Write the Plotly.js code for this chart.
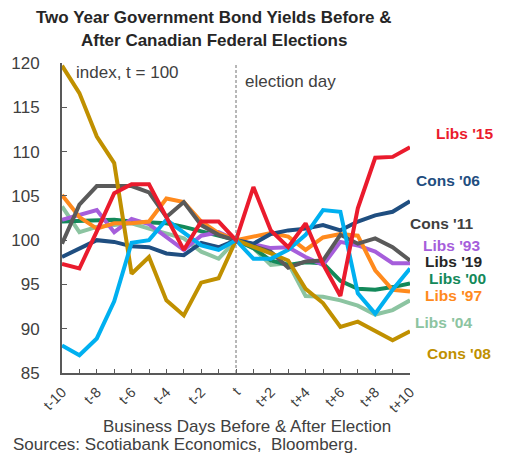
<!DOCTYPE html>
<html>
<head>
<meta charset="utf-8">
<script src="https://cdn.plot.ly/plotly-3.0.1.min.js"></script>
<style>html,body{margin:0;padding:0;background:#fff;}#chart{width:513px;height:456px;}</style>
</head>
<body>
<div id="chart"></div>
<script>
const tickLabels = ["t-10","t-9","t-8","t-7","t-6","t-5","t-4","t-3","t-2","t-1","t","t+1","t+2","t+3","t+4","t+5","t+6","t+7","t+8","t+9","t+10"];
const shownTicks = ["t-10","t-8","t-6","t-4","t-2","t","t+2","t+4","t+6","t+8","t+10"];

const libs15 = [97.3,96.8,101.0,105.3,106.3,106.3,102.6,98.9,102.1,102.1,100,106.0,101.1,99.2,101.9,97.3,93.7,103.6,109.3,109.4,110.5];
const cons06 = [98.1,99.1,100.0,99.8,99.3,99.2,98.5,98.3,99.7,99.2,100,99.6,100.7,101.1,101.3,101.7,101.1,102.1,102.8,103.2,104.4];
const cons11 = [99.6,104.0,106.1,106.1,106.1,105.4,102.6,104.3,101.7,100.6,100,99.4,98.7,96.9,97.6,97.7,100.6,99.6,100.2,99.2,97.7];
const libs93 = [102.3,102.8,103.4,100.9,102.4,101.8,100.3,98.9,100.5,100.9,100,99.5,99.1,99.2,98.1,97.2,99.8,99.4,98.7,97.4,97.4];
const libs19 = [88.1,87.0,88.9,93.1,99.7,100.0,102.3,100.9,99.4,98.9,100,97.9,97.9,98.9,100.6,103.4,103.2,94.0,91.7,94.4,96.8];
const libs00 = [102.1,102.2,102.2,102.3,102.1,102.0,101.9,101.5,101.0,100.6,100,99.1,97.7,97.2,97.5,97.4,95.4,94.5,94.4,94.7,95.1];
const libs97 = [105.1,102.6,101.3,101.9,101.9,102.1,104.7,104.3,102.1,100.8,100,100.4,100.8,100.4,98.9,100.3,100.7,100.5,96.6,94.4,94.2];
const libs04 = [103.8,100.9,101.5,101.7,101.9,101.3,100.8,100.2,98.7,97.9,100,99.1,97.2,97.4,93.7,93.6,93.2,92.6,91.6,92.1,93.2];
const cons08 = [119.7,116.6,111.7,108.7,96.2,98.1,93.2,91.5,95.2,95.7,100,99.3,98.5,97.7,94.5,92.9,90.2,90.8,89.8,88.7,89.7];

const seriesNames = ["Libs '04","Libs '00","Libs '93","Libs '97","Cons '11","Cons '06","Cons '08","Libs '19","Libs '15"];
const seriesData = [libs04, libs00, libs93, libs97, cons11, cons06, cons08, libs19, libs15];
const seriesColors = ["#8cc4a1","#13895a","#a65edb","#ff8a1d","#5a5a5a","#1f4e80","#c09000","#00b0f0","#ea1b2d"];

const labelTexts = ["Libs '15","Cons '06","Cons '11","Libs '93","Libs '19","Libs '00","Libs '97","Libs '04","Cons '08"];
const labelColors = ["#ea1b2d","#1f4e80","#404040","#a65edb","#262626","#13895a","#ff8a1d","#8cc4a1","#c09000"];

const L = 62, T = 63, W = 348, H = 310;
const labelPx = [[465,133],[448,180],[442,224],[452,245],[453,261],[457,278],[453,295],[443,322],[459,353]];

const xIdx = tickLabels.map((_, i) => i);
const traces = seriesData.map((d, k) => ({
  x: xIdx, y: d, type: 'scatter', mode: 'lines', name: seriesNames[k],
  line: {color: seriesColors[k], width: 4}, hoverinfo: 'skip'
}));

const FONT = 'Liberation Sans, Arial, sans-serif';
const px2paper = (px, py) => [(px - L) / W, (T + H - py) / H];
const annotations = labelTexts.map((t, k) => {
  const p = px2paper(labelPx[k][0], labelPx[k][1]);
  return {x: p[0], y: p[1], xref: 'paper', yref: 'paper', text: '<b>' + t + '</b>',
    showarrow: false, font: {family: FONT, size: 15.5, color: labelColors[k]},
    xanchor: 'center', yanchor: 'middle'};
});
function addText(px, py, text, size, color, anchor) {
  const p = px2paper(px, py);
  annotations.push({x: p[0], y: p[1], xref: 'paper', yref: 'paper', text: text, showarrow: false,
    xanchor: anchor, yanchor: 'middle', font: {family: FONT, size: size, color: color}});
}
addText(74, 72, 'index, t = 100', 17, '#404040', 'left');
addText(243, 81, 'election day', 17, '#404040', 'left');
addText(11, 444, 'Sources: Scotiabank Economics,  Bloomberg.', 17, '#404040', 'left');
addText(214, 18, '<b>Two Year Government Bond Yields Before &</b>', 17, '#262626', 'center');
addText(214, 41, '<b>After Canadian Federal Elections</b>', 17, '#262626', 'center');
addText(247, 426, 'Business Days Before & After Election', 17, '#404040', 'center');

const layout = {
  width: 513, height: 456,
  margin: {l: L, r: 513 - L - W, t: T, b: 456 - T - H},
  paper_bgcolor: '#fff', plot_bgcolor: '#fff',
  showlegend: false,
  font: {family: FONT, size: 15, color: '#404040'},
  xaxis: {
    range: [0, 20], tickmode: 'array', tickvals: xIdx,
    ticktext: tickLabels.map(t => shownTicks.includes(t) ? t : ''),
    tickangle: -45, ticks: 'inside', ticklen: 4, tickcolor: '#595959', tickwidth: 1,
    showline: true, linecolor: '#595959', linewidth: 2, showgrid: false, zeroline: false,
    tickfont: {size: 14.5, color: '#404040'}, ticklabelstandoff: 3
  },
  yaxis: {
    range: [85, 120], tickvals: [85,90,95,100,105,110,115,120],
    ticks: 'inside', ticklen: 5, tickcolor: '#595959', tickwidth: 1,
    showline: true, linecolor: '#595959', linewidth: 2, showgrid: false, zeroline: false,
    tickfont: {size: 17, color: '#404040'}, ticklabelstandoff: 17
  },
  shapes: [{type: 'line', xref: 'x', yref: 'paper', x0: 10, x1: 10, y0: 0, y1: 1,
    line: {color: '#707070', width: 1, dash: '3px,2px'}}],
  annotations: annotations
};

Plotly.newPlot('chart', traces, layout, {staticPlot: true, displayModeBar: false});
</script>
</body>
</html>
